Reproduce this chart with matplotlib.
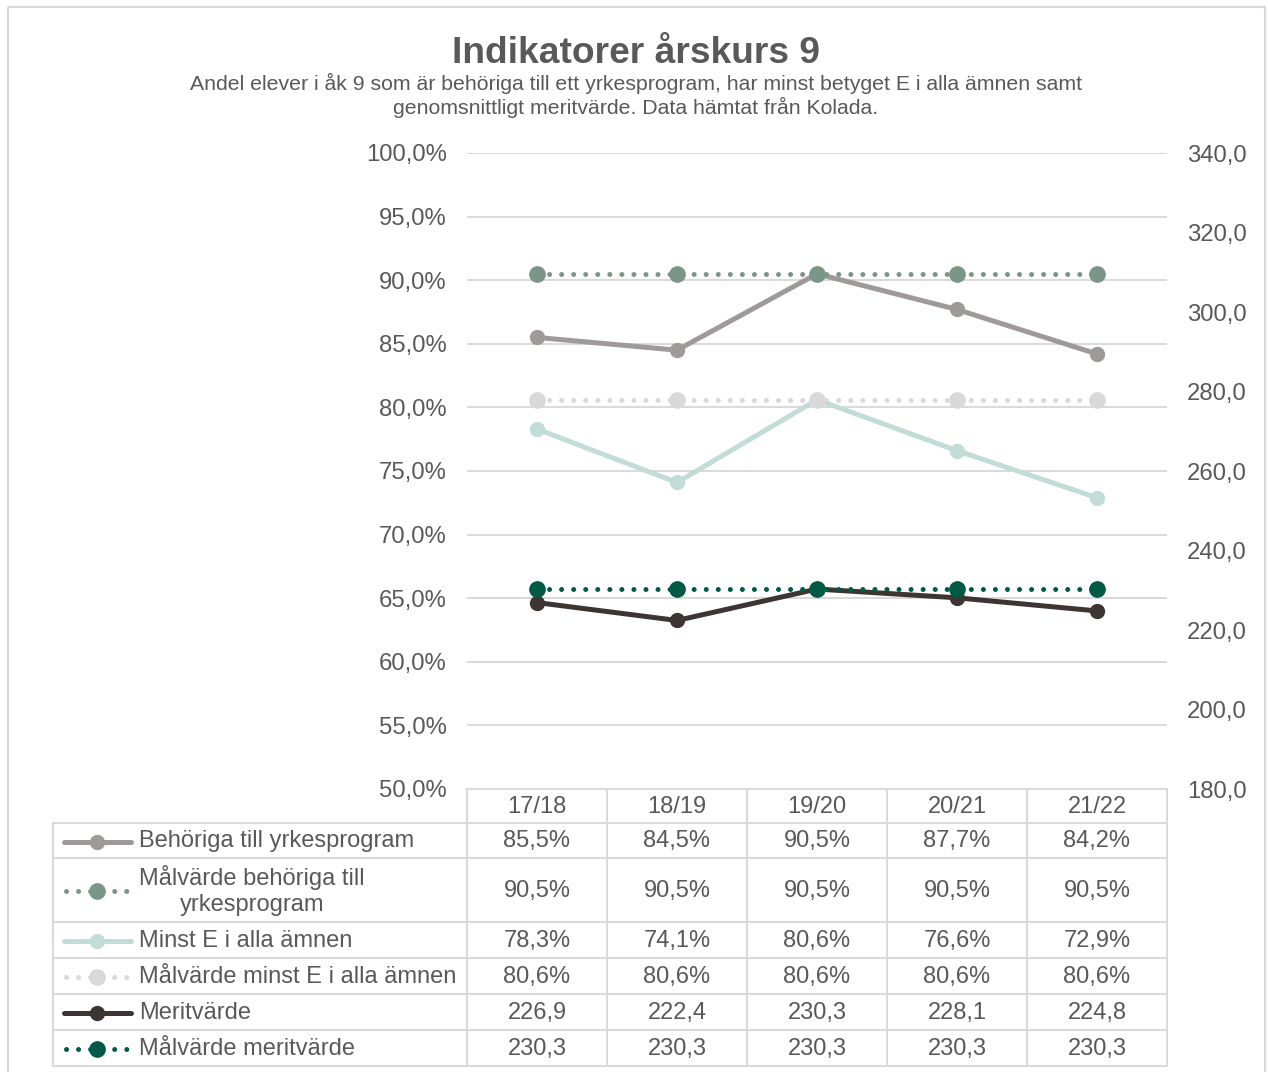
import numpy as np
import matplotlib.pyplot as plt
from matplotlib.patches import Rectangle

plt.rcParams['font.family'] = ['Liberation Sans', 'DejaVu Sans']

# data
seasons = ["17/18", "18/19", "19/20", "20/21", "21/22"]
behoriga = [85.5, 84.5, 90.5, 87.7, 84.2]
mal_behoriga = [90.5, 90.5, 90.5, 90.5, 90.5]
minst_e = [78.3, 74.1, 80.6, 76.6, 72.9]
mal_minst_e = [80.6, 80.6, 80.6, 80.6, 80.6]
merit = [226.9, 222.4, 230.3, 228.1, 224.8]
mal_merit = [230.3, 230.3, 230.3, 230.3, 230.3]

names = ["Behöriga till yrkesprogram", "Målvärde behöriga till\nyrkesprogram",
         "Minst E i alla ämnen", "Målvärde minst E i alla ämnen",
         "Meritvärde", "Målvärde meritvärde"]
colors = ["#9e9a9a", "#7a9686", "#c2dcd8", "#d9d9d9", "#3d3532", "#005a46"]
dotted = [False, True, False, True, False, True]
series = [behoriga, mal_behoriga, minst_e, mal_minst_e, merit, mal_merit]
is_pct = [True, True, True, True, False, False]

TXT = "#595959"
GRID = "#d9d9d9"
W, H = 1268, 1072

fig = plt.figure(figsize=(W / 100, H / 100), dpi=100)

# plot area in pixels
L, R, T, B = 467, 1167, 153, 789
ax = fig.add_axes([L / W, 1 - B / H, (R - L) / W, (B - T) / H])
ax2 = ax.twinx()
x = np.arange(len(seasons))


def style(col, dot):
    kw = dict(color=col, lw=3.6, marker="o", mfc=col, mec=col)
    if dot:
        kw.update(ls=(0, (0.01, 2.4)), dash_capstyle="round", ms=11)
    else:
        kw.update(solid_capstyle="round", ms=10)
    return kw


for vals, col, dot, pct in zip(series, colors, dotted, is_pct):
    target = ax if pct else ax2
    target.plot(x, vals, **style(col, dot), zorder=3)

ax.set_xlim(-0.5, len(seasons) - 0.5)
ax.set_ylim(50, 100)
yt = np.arange(50, 100.1, 5)
ax.set_yticks(yt)
ax.set_yticklabels([f"{t:.1f}%".replace(".", ",") for t in yt])
ax2.set_ylim(180, 340)
yt2 = np.arange(180, 340.1, 20)
ax2.set_yticks(yt2)
ax2.set_yticklabels([f"{t:.1f}".replace(".", ",") for t in yt2])

for a in (ax, ax2):
    for s in a.spines.values():
        s.set_visible(False)
    a.set_xticks([])
ax.tick_params(axis="y", left=False, labelsize=17.2, labelcolor=TXT, pad=11)
ax2.tick_params(axis="y", right=False, labelsize=17.2, labelcolor=TXT, pad=10.7)
ax.yaxis.grid(True, color=GRID, lw=1.4)
ax.set_axisbelow(True)

# overlay for title, border and data table (pixel coordinates)
ov = fig.add_axes([0, 0, 1, 1], zorder=-1)
ov.set_xlim(0, W)
ov.set_ylim(H, 0)
ov.axis("off")
ov.add_patch(Rectangle((8, 7), 1257, 1080, fill=False, ec=GRID, lw=1.5))

ov.text(636, 63, "Indikatorer årskurs 9", ha="center", va="baseline",
        fontsize=26.7, fontweight="bold", color=TXT)
ov.text(636, 90, "Andel elever i åk 9 som är behöriga till ett yrkesprogram, har minst betyget E i alla ämnen samt",
        ha="center", va="baseline", fontsize=15.3, color=TXT)
ov.text(636, 114, "genomsnittligt meritvärde. Data hämtat från Kolada.",
        ha="center", va="baseline", fontsize=15.3, color=TXT)

# table grid
col_edges = np.linspace(L, R, len(seasons) + 1)
row_edges = [B, 823, 858, 922, 958, 994, 1030, 1066]
TL = 53
lw_t = 1.4
ov.plot([L, L], [B, row_edges[-1]], color=GRID, lw=lw_t)
for ce in col_edges[1:]:
    ov.plot([ce, ce], [B, row_edges[-1]], color=GRID, lw=lw_t)
ov.plot([L, R], [B, B], color=GRID, lw=lw_t)
for re in row_edges[1:]:
    ov.plot([TL, R], [re, re], color=GRID, lw=lw_t)
ov.plot([TL, TL], [row_edges[1], row_edges[-1]], color=GRID, lw=lw_t)

centers = [(col_edges[i] + col_edges[i + 1]) / 2 for i in range(len(seasons))]
for cx, s in zip(centers, seasons):
    ov.text(cx, (row_edges[0] + row_edges[1]) / 2 + 1, s, ha="center", va="center",
            fontsize=17, color=TXT)

for r, (vals, name, col, dot, pct) in enumerate(zip(series, names, colors, dotted, is_pct)):
    y0, y1 = row_edges[r + 1], row_edges[r + 2]
    cy = (y0 + y1) / 2 + 1
    for cx, v in zip(centers, vals):
        lab = f"{v:.1f}%" if pct else f"{v:.1f}"
        ov.text(cx, cy, lab.replace(".", ","), ha="center", va="center",
                fontsize=17, color=TXT)
    # legend key
    kw = style(col, dot)
    ms = kw.pop("ms")
    kw.pop("marker")
    if dot:
        ov.plot([66, 128], [cy, cy], **kw)
    else:
        ov.plot([64, 131], [cy, cy], **kw)
    ov.plot([97], [cy], marker="o", ms=ms, color=col, ls="none")
    if "\n" in name:
        l1, l2 = name.split("\n")
        ov.text(139, cy - 14, l1, ha="left", va="center", fontsize=17, color=TXT)
        ov.text(180, cy + 14, l2, ha="left", va="center", fontsize=17, color=TXT)
    else:
        ov.text(139, cy, name, ha="left", va="center", fontsize=17, color=TXT)

fig.savefig("out.png", dpi=100)
